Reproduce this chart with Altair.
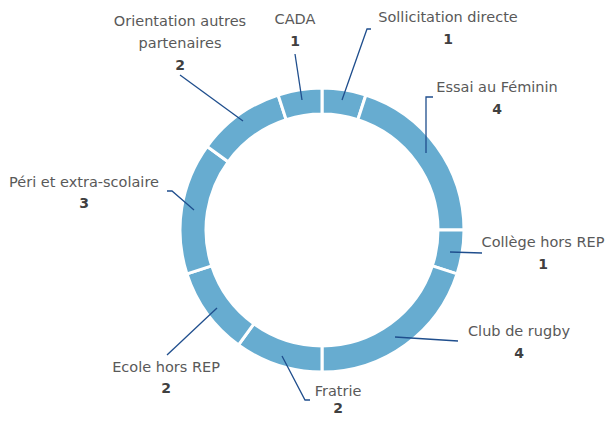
import altair as alt
import pandas as pd

# ---- data ----
categories = ["Sollicitation directe", "Essai au Féminin", "Collège hors REP",
              "Club de rugby", "Fratrie", "Ecole hors REP",
              "Péri et extra-scolaire", "Orientation autres\npartenaires", "CADA"]
values = [1, 4, 1, 4, 2, 2, 3, 2, 1]

# ---- annotation layout (page pixel coordinates) ----
label_x = [448, 497, 543, 519, 338, 166, 84, 180, 295]
label_y = [18, 88, 243, 332, 392, 368, 183, 22, 20]
value_gap = [22, 22, 22, 22, 17, 21, 21, 22, 22]
leaders = [
    [(342, 100), (367, 29), (371, 29)],
    [(426, 153), (426, 97), (433, 97)],
    [(450, 252), (482, 253)],
    [(395, 337), (458, 341)],
    [(282, 356), (305, 400), (310, 400)],
    [(217, 308), (167, 355)],
    [(194, 210), (172, 191), (167, 191)],
    [(180, 75), (243, 121)],
    [(295, 54), (302, 100)],
]

LINE_H = 22
FONT = "DejaVu Sans"

slices = pd.DataFrame({"cat": categories, "val": values,
                       "ord": list(range(len(categories)))})

name_rows, value_rows, leader_rows = [], [], []
for i, (c, v) in enumerate(zip(categories, values)):
    lines = c.split("\n")
    for k, ln in enumerate(lines):
        name_rows.append({"x": label_x[i], "y": label_y[i] + k * LINE_H, "t": ln})
    value_rows.append({"x": label_x[i],
                       "y": label_y[i] + (len(lines) - 1) * LINE_H + value_gap[i],
                       "t": str(v)})
    for j, (px, py) in enumerate(leaders[i]):
        leader_rows.append({"x": px, "y": py, "g": i, "o": j})

names_df = pd.DataFrame(name_rows)
vals_df = pd.DataFrame(value_rows)
lead_df = pd.DataFrame(leader_rows)

W, H = 598, 412
xs = alt.Scale(domain=[8, 8 + W], range=[0, W])
ys = alt.Scale(domain=[8, 8 + H], range=[0, H])

donut = alt.Chart(slices).mark_arc(
    outerRadius=142, innerRadius=116, stroke="white", strokeWidth=3,
    color="#67ACD0"
).encode(
    theta=alt.Theta("val:Q", stack=True),
    order=alt.Order("ord:Q"),
    x=alt.value(322 - 8),
    y=alt.value(230 - 8),
)

lead = alt.Chart(lead_df).mark_line(color="#1F4E8D", strokeWidth=1.3).encode(
    x=alt.X("x:Q", scale=xs, axis=None),
    y=alt.Y("y:Q", scale=ys, axis=None),
    detail="g:N",
    order="o:Q",
)

names = alt.Chart(names_df).mark_text(
    font=FONT, fontSize=14.5, color="#595959", baseline="middle", align="center"
).encode(
    x=alt.X("x:Q", scale=xs, axis=None),
    y=alt.Y("y:Q", scale=ys, axis=None),
    text="t:N",
)

vals = alt.Chart(vals_df).mark_text(
    font=FONT, fontSize=14, fontWeight="bold", color="#404040",
    baseline="middle", align="center"
).encode(
    x=alt.X("x:Q", scale=xs, axis=None),
    y=alt.Y("y:Q", scale=ys, axis=None),
    text="t:N",
)

chart = alt.layer(donut, lead, names, vals).properties(
    width=W, height=H, padding=0,
    autosize=alt.AutoSizeParams(type="fit", contains="padding"),
).configure_view(stroke=None)

chart.save("out.html", embed_options={"renderer": "svg", "actions": False})
